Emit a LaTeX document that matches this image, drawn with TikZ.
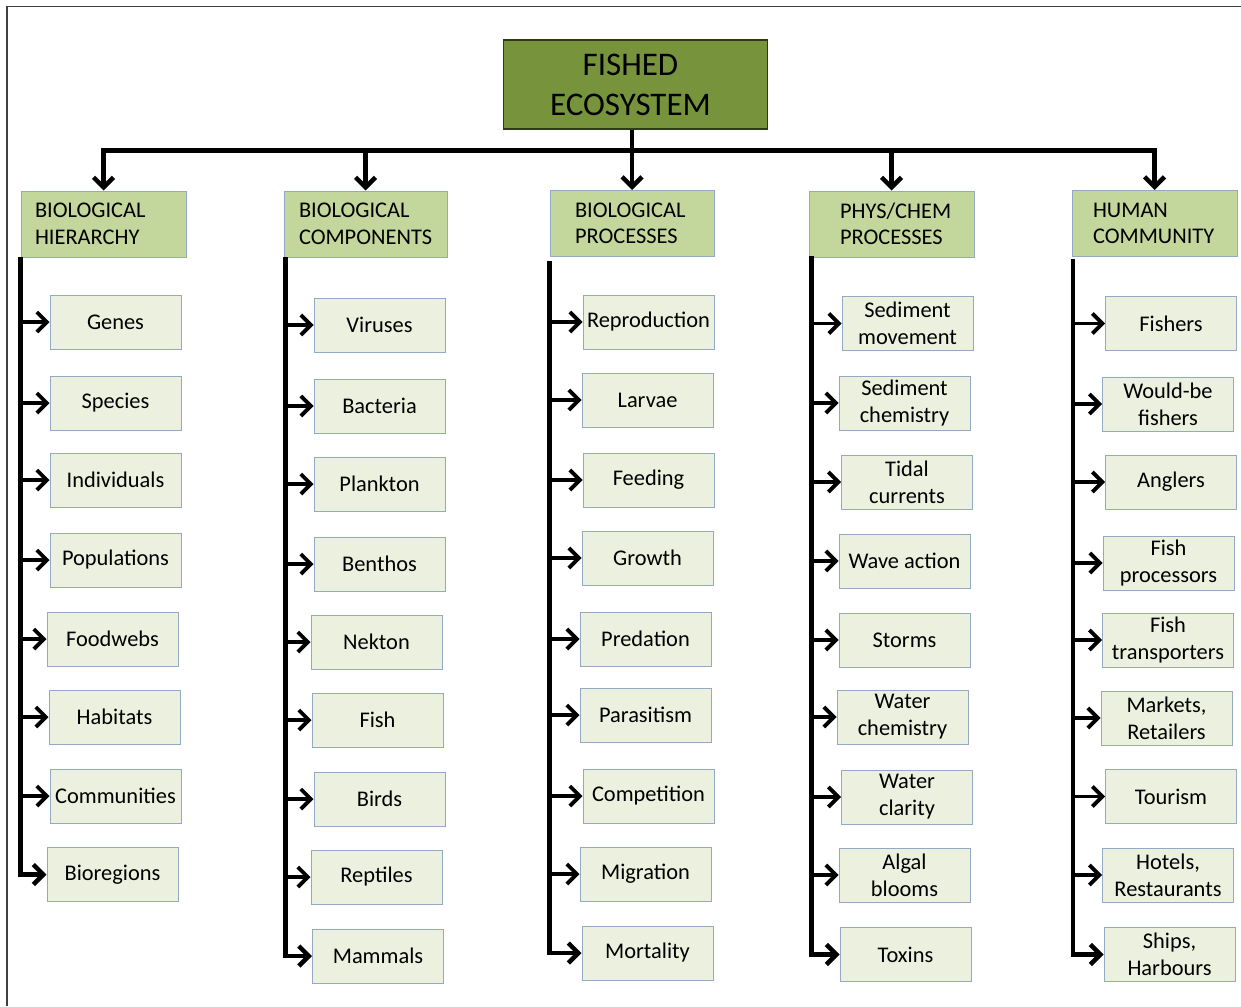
\documentclass[tikz,border=0pt]{standalone}
\usepackage{fontspec}
\setmainfont{Carlito}
\usetikzlibrary{arrows.meta}
\definecolor{titlefill}{HTML}{77933C}
\definecolor{titleline}{HTML}{2E3A17}
\definecolor{hdrfill}{HTML}{C3D69B}
\definecolor{itemfill}{HTML}{EBF1DE}
\definecolor{boxline}{HTML}{93A9C4}
\definecolor{framecol}{HTML}{404040}
\begin{document}
\begin{tikzpicture}[x=1pt,y=-1pt,
  titlebox/.style={draw=titleline, fill=titlefill, line width=1.5pt,
    minimum width=264pt, minimum height=89pt, inner sep=0pt, align=center,
    font=\fontsize{33}{40}\selectfont},
  hdr/.style={draw=boxline, fill=hdrfill, line width=1pt, minimum height=66pt,
    inner ysep=0pt, align=left, font=\fontsize{22.4}{26.5}\selectfont},
  item/.style={draw=boxline, fill=itemfill, line width=1pt, minimum width=131pt,
    minimum height=54pt, inner sep=0pt, align=center,
    font=\fontsize{22.4}{27}\selectfont},
  tip/.style={-{Straight Barb[length=10pt,width=20pt]}},
  bar/.style={line width=5pt, line cap=rect},
  spine/.style={line width=4.5pt},
  arr/.style={line width=3.8pt, tip},
  downarr/.style={line width=4.5pt, tip}]
\useasboundingbox (0,0) rectangle (1241,1006);

% outer frame (top and left edges)
\draw[framecol, line width=1.5pt] (7,1006) -- (7,6.5) -- (1241,6.5);

% root
\node[titlebox] (root) at (635.5,84.5) {\hspace*{-10pt}FISHED\\\hspace*{-10pt}ECOSYSTEM};

% category headers
\node[hdr, text width=137pt, inner xsep=14pt] (h1) at (103.5,224) {BIOLOGICAL\\HIERARCHY};
\node[hdr, text width=133pt, inner xsep=15pt] (h2) at (365.5,224) {BIOLOGICAL\\COMPONENTS};
\node[hdr, text width=114pt, inner xsep=25pt] (h3) at (632,223.5) {BIOLOGICAL\\PROCESSES};
\node[hdr, text width=103pt, inner xsep=31pt] (h4) at (891.5,224) {PHYS/CHEM\\PROCESSES};
\node[hdr, text width=123pt, inner xsep=21pt] (h5) at (1154.5,223.5) {HUMAN\\COMMUNITY};

% distribution bus from the root to the headers
\coordinate (bus) at (632,150);
\draw[spine] (root.south -| bus) -- (bus);
\draw[bar] (h1.north |- bus) -- (h5.north |- bus);
\foreach \h in {h1,h2,h3,h4,h5}
  \draw[downarr] (\h.north |- bus) -- (\h.north);

% biological hierarchy
\node[item] (g1) at (115.5,322) {Genes};
\node[item] (g2) at (115.5,403) {Species};
\node[item] (g3) at (115.5,480) {Individuals};
\node[item] (g4) at (115.5,560) {Populations};
\node[item] (g5) at (112.5,639) {Foodwebs};
\node[item] (g6) at (114.5,717) {Habitats};
\node[item] (g7) at (115.5,796) {Communities};
\node[item] (g8) at (112.5,874.5) {Bioregions};

% biological components
\node[item] (c1) at (379.5,325) {Viruses};
\node[item] (c2) at (379.5,406) {Bacteria};
\node[item] (c3) at (379.5,484) {Plankton};
\node[item] (c4) at (379.5,564) {Benthos};
\node[item] (c5) at (376.5,642) {Nekton};
\node[item] (c6) at (377.5,720) {Fish};
\node[item] (c7) at (379.5,799) {Birds};
\node[item] (c8) at (376.5,877) {Reptiles};
\node[item] (c9) at (378,956) {Mammals};

% biological processes
\node[item] (p1) at (648.5,322) {Reproduction};
\node[item] (p2) at (647.5,400) {Larvae};
\node[item] (p3) at (648.5,480) {Feeding};
\node[item] (p4) at (647.5,558) {Growth};
\node[item] (p5) at (645.5,639) {Predation};
\node[item] (p6) at (645.5,715) {Parasitism};
\node[item] (p7) at (648.5,796) {Competition};
\node[item] (p8) at (645.5,874) {Migration};
\node[item] (p9) at (647.5,953) {Mortality};

% physical / chemical processes
\node[item] (e1) at (907.5,323.5) {Sediment\\movement};
\node[item] (e2) at (904.5,403) {Sediment\\chemistry};
\node[item] (e3) at (907,482) {Tidal\\currents};
\node[item] (e4) at (904.5,561) {Wave action};
\node[item] (e5) at (904.5,640) {Storms};
\node[item] (e6) at (902.5,717) {Water\\chemistry};
\node[item] (e7) at (907,797) {Water\\clarity};
\node[item] (e8) at (904.5,875) {Algal\\blooms};
\node[item] (e9) at (905.5,954.5) {Toxins};

% human community
\node[item] (u1) at (1171,323.5) {Fishers};
\node[item] (u2) at (1168,404) {Would-be\\fishers};
\node[item] (u3) at (1171,482) {Anglers};
\node[item] (u4) at (1168.5,563) {Fish\\processors};
\node[item] (u5) at (1168,640) {Fish\\transporters};
\node[item] (u6) at (1166.5,718) {Markets,\\Retailers};
\node[item] (u7) at (1171,796.5) {Tourism};
\node[item] (u8) at (1168,875) {Hotels,\\Restaurants};
\node[item] (u9) at (1169.5,954.5) {Ships,\\Harbours};

% spines with branch arrows
\coordinate (s1) at (20.5,257);
\coordinate (s2) at (285.5,257);
\coordinate (s3) at (549.5,261);
\coordinate (s4) at (811.5,256);
\coordinate (s5) at (1073,259);

\draw[spine, tip] (s1) |- (g8.west);
\foreach \n in {g1,g2,g3,g4,g5,g6,g7}
  \draw[arr] (s1 |- \n.west) -- (\n.west);

\draw[spine, tip] (s2) |- (c9.west);
\foreach \n in {c1,c2,c3,c4,c5,c6,c7,c8}
  \draw[arr] (s2 |- \n.west) -- (\n.west);

\draw[spine, tip] (s3) |- (p9.west);
\foreach \n in {p1,p2,p3,p4,p5,p6,p7,p8}
  \draw[arr] (s3 |- \n.west) -- (\n.west);

\draw[spine, tip] (s4) |- (e9.west);
\foreach \n in {e1,e2,e3,e4,e5,e6,e7,e8}
  \draw[arr] (s4 |- \n.west) -- (\n.west);

\draw[spine, tip] (s5) |- (u9.west);
\foreach \n in {u1,u2,u3,u4,u5,u6,u7,u8}
  \draw[arr] (s5 |- \n.west) -- (\n.west);
\end{tikzpicture}
\end{document}
